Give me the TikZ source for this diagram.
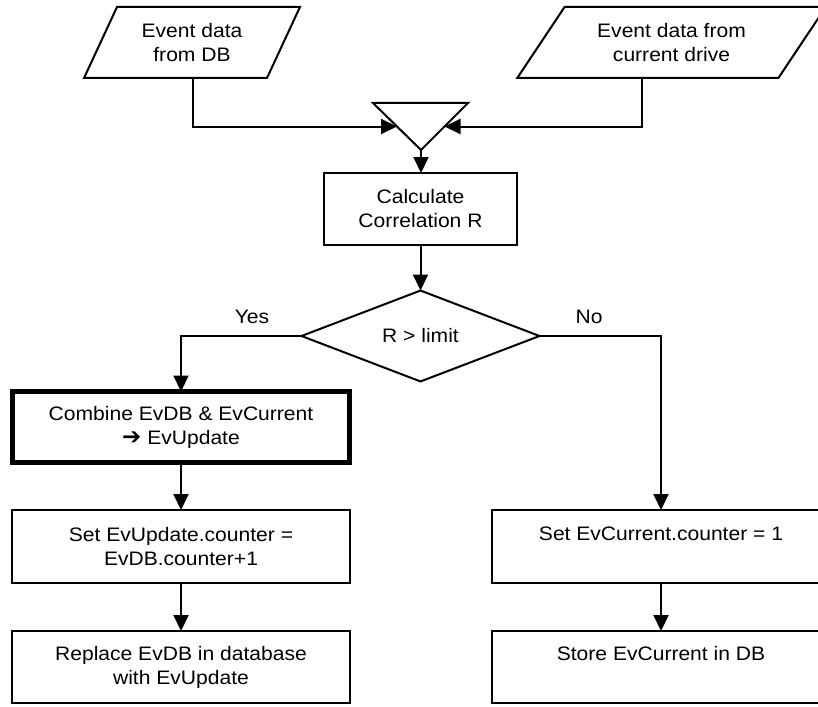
\documentclass[tikz,border=0pt]{standalone}
\usepackage{fontspec}
\setmainfont{Liberation Sans}[FakeStretch=1.08]
\newfontfamily\symf{DejaVu Sans}
\usetikzlibrary{arrows.meta,shapes.geometric,calc}

\tikzset{
  base/.style={draw, line width=2pt, inner sep=0pt, outer sep=0pt, align=center,
    font=\fontsize{19.5}{24}\selectfont},
  proc/.style={base, rectangle, minimum width=338pt, minimum height=73pt},
  io/.style={base, trapezium, trapezium stretches=true, minimum height=71pt},
  decide/.style={base, diamond, minimum width=238pt, minimum height=78pt},
  lbl/.style={inner sep=0pt, font=\fontsize{19.5}{24}\selectfont},
  arr/.style={line width=2pt, -{Triangle[length=16pt,width=15pt]}},
  topline/.style={text height=14pt, text depth=27pt}
}

\begin{document}
\begin{tikzpicture}[x=1pt, y=-1pt]
  \useasboundingbox (0,0) rectangle (818,706);
  \fill[white] (0,0) rectangle (818,706);
  \clip (0,0) rectangle (818,706);

  % inputs
  \node[io, minimum width=216pt, trapezium left angle=60, trapezium right angle=120]
    (paraL) at (192,42.5) {Event data\\from DB};
  \node[io, minimum width=309pt, trapezium left angle=49.3, trapezium right angle=130.7]
    (paraR) at (671.5,42.5) {Event data from\\current drive};

  % merge symbol
  \coordinate (mA) at (373,103);
  \coordinate (mB) at (468,103);
  \coordinate (mC) at (421,150);
  \draw[line width=2pt, line join=miter] (mA) -- (mB) -- (mC) -- cycle;
  \coordinate (mL) at ($(mA)!0.5!(mC)$);
  \coordinate (mR) at ($(mB)!0.5!(mC)$);
  \coordinate (outL) at (193,78);
  \coordinate (outR) at (642,78);

  % process steps
  \node[proc, minimum width=193pt, minimum height=72pt] (calc) at (420.5,209)
    {Calculate\\Correlation R};
  \node[decide] (dec) at (420.5,336) {R > limit};
  \node[proc, line width=5pt, minimum width=337pt, minimum height=71pt] (combine) at (181,427)
    {Combine EvDB \& EvCurrent\\{\symf\fontsize{23}{24}\selectfont ➔} EvUpdate};
  \node[proc] (setupd) at (181,546.5) {Set EvUpdate.counter =\\EvDB.counter+1};
  \node[proc, minimum height=72pt] (replace) at (181,667) {Replace EvDB in database\\with EvUpdate};
  \node[proc, topline] (setcur) at (661,546.5) {Set EvCurrent.counter = 1};
  \node[proc, minimum height=72pt, topline] (store) at (661,667) {Store EvCurrent in DB};

  % branch labels
  \node[lbl] (yes) at (252,317) {Yes};
  \node[lbl] (no) at (589,317) {No};

  % connectors
  \draw[arr] (outL) |- (mL);
  \draw[arr] (outR) |- (mR);
  \draw[arr] (mC) -- (mC |- calc.north);
  \draw[arr] (calc.south) -- (dec.north);
  \draw[arr] (dec.west) -| (combine.north);
  \draw[arr] (dec.east) -| (setcur.north);
  \draw[arr] (combine.south) -- (setupd.north);
  \draw[arr] (setupd.south) -- (replace.north);
  \draw[arr] (setcur.south) -- (store.north);
\end{tikzpicture}
\end{document}
